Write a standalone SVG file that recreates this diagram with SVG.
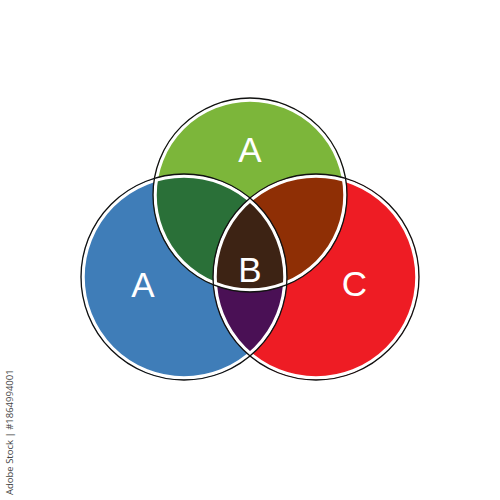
<svg xmlns="http://www.w3.org/2000/svg" width="500" height="500" viewBox="0 0 500 500">
<style>
.lbl{font-family:"Liberation Sans",Arial,sans-serif;fill:#fff;text-anchor:middle;font-size:35px}
.w{fill:none;stroke:#fff;stroke-width:3.5}
.k{fill:none;stroke:#111;stroke-width:1.3}
</style>
<defs>
<clipPath id="cB"><circle cx="184" cy="277" r="103"/></clipPath>
<clipPath id="cR"><circle cx="316" cy="277" r="103"/></clipPath>
<clipPath id="cG"><circle cx="250" cy="195" r="97"/></clipPath>
</defs>
<rect width="500" height="500" fill="#fff"/>
<g id="blue"><circle cx="184" cy="277" r="103" fill="#3f7db8"/></g>
<g id="red"><circle cx="316" cy="277" r="103" fill="#ee1c24"/></g>
<g id="green"><circle cx="250" cy="195" r="97" fill="#7cb63a"/></g>
<g id="overlaps">
<circle cx="250" cy="195" r="97" fill="#2a7038" clip-path="url(#cB)"/>
<circle cx="250" cy="195" r="97" fill="#8f2f05" clip-path="url(#cR)"/>
<circle cx="184" cy="277" r="103" fill="#4a1055" clip-path="url(#cR)"/>
<g clip-path="url(#cG)"><circle cx="184" cy="277" r="103" fill="#3d2314" clip-path="url(#cR)"/></g>
</g>
<g id="outlines">
<circle class="w" cx="184" cy="277" r="101"/>
<circle class="w" cx="316" cy="277" r="101"/>
<circle class="w" cx="250" cy="195" r="95"/>
<circle class="k" cx="184" cy="277" r="103"/>
<circle class="k" cx="316" cy="277" r="103"/>
<circle class="k" cx="250" cy="195" r="97"/>
</g>
<g id="labels">
<text class="lbl" x="250" y="162">A</text>
<text class="lbl" x="143" y="297">A</text>
<text class="lbl" x="250" y="282">B</text>
<text class="lbl" x="354.5" y="296">C</text>
</g>
<text x="13" y="495" transform="rotate(-90 13 495)" font-family="'Open Sans',Arial,sans-serif" font-size="9.5" fill="#444">Adobe Stock | #1864994001</text>
</svg>
